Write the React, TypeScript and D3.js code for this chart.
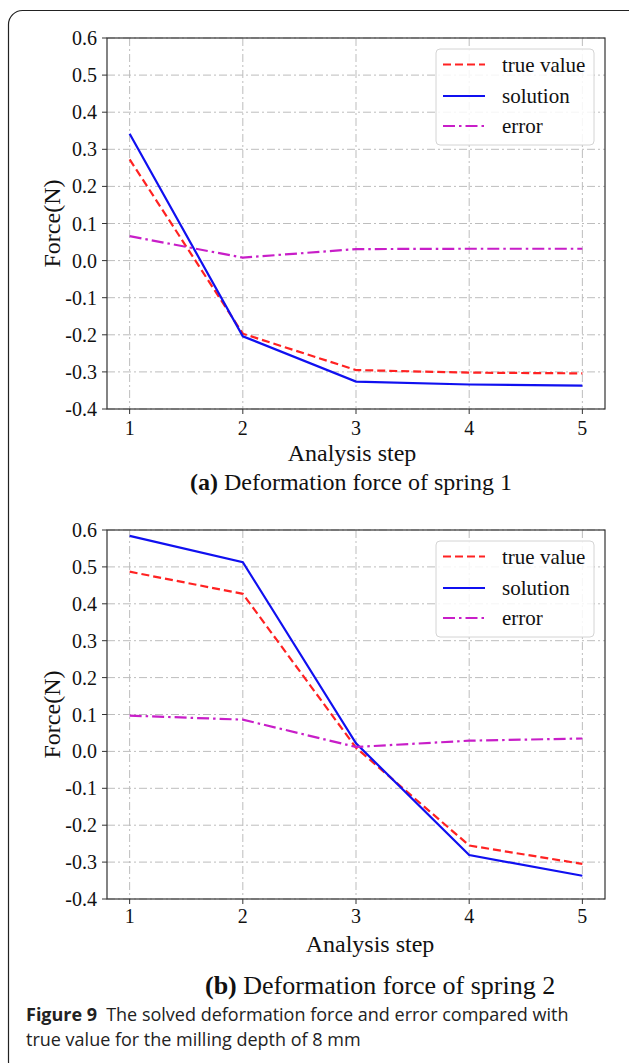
import React from "react";
import * as d3 from "d3";

const steps = [1, 2, 3, 4, 5];
const yTicks = [0.6, 0.5, 0.4, 0.3, 0.2, 0.1, 0.0, -0.1, -0.2, -0.3, -0.4];
const seriesNames = ["true value", "solution", "error"];

const trueA = [0.273, -0.197, -0.295, -0.302, -0.304];
const solA = [0.342, -0.204, -0.326, -0.334, -0.337];
const errA = [0.066, 0.008, 0.031, 0.032, 0.032];

const trueB = [0.487, 0.427, 0.010, -0.255, -0.305];
const solB = [0.584, 0.513, 0.022, -0.281, -0.337];
const errB = [0.097, 0.086, 0.012, 0.029, 0.035];

const W = 629;
const H = 1063;
const SERIF = "'Liberation Serif', 'Times New Roman', serif";
const SANS = "'Open Sans', 'Noto Sans', sans-serif";

const styles = [
  { color: "#ff2222", dash: "8,4", width: 2.2 },
  { color: "#1010f0", dash: "none", width: 2.2 },
  { color: "#c81ec8", dash: "12,4,2.5,4", width: 2.2 },
];

const x = d3.scaleLinear().domain([0.8, 5.2]).range([107, 605]);

function fmt(v: number) {
  return v.toFixed(1);
}

function Panel({
  top,
  bottom,
  series,
  xLabelX,
  xLabelY,
  tickY,
  subX,
  subY,
  subSize,
  subLetter,
  subText,
}: {
  top: number;
  bottom: number;
  series: number[][];
  xLabelX: number;
  xLabelY: number;
  tickY: number;
  subX: number;
  subY: number;
  subSize: number;
  subLetter: string;
  subText: string;
}) {
  const y = d3.scaleLinear().domain([-0.4, 0.6]).range([bottom, top]);
  const [x0, x1] = x.range();
  const line = d3
    .line<number>()
    .x((_, i) => x(steps[i]))
    .y((d) => y(d));
  const lgTop = top + 11;
  const rows = [26.5, 58, 88].map((o) => top + o);
  return (
    <g>
      {/* grid */}
      {yTicks.map((t) => (
        <line
          key={"gy" + t}
          x1={x0}
          x2={x1}
          y1={y(t)}
          y2={y(t)}
          stroke="#bdbdbd"
          strokeWidth={1}
          strokeDasharray="8,3,2,3"
        />
      ))}
      {steps.map((s) => (
        <line
          key={"gx" + s}
          x1={x(s)}
          x2={x(s)}
          y1={top}
          y2={bottom}
          stroke="#bdbdbd"
          strokeWidth={1}
          strokeDasharray="8,3,2,3"
        />
      ))}
      {/* series */}
      {series.map((d, i) => (
        <path
          key={"s" + i}
          d={line(d) || ""}
          fill="none"
          stroke={styles[i].color}
          strokeWidth={styles[i].width}
          strokeDasharray={styles[i].dash}
        />
      ))}
      {/* legend */}
      <rect
        x={436}
        y={lgTop}
        width={158}
        height={96}
        rx={4}
        fill="white"
        fillOpacity={0.85}
        stroke="#d4d4d4"
        strokeWidth={1}
      />
      {seriesNames.map((n, i) => (
        <g key={"l" + i}>
          <line
            x1={443}
            x2={485}
            y1={rows[i]}
            y2={rows[i]}
            stroke={styles[i].color}
            strokeWidth={styles[i].width}
            strokeDasharray={styles[i].dash}
          />
          <text
            x={502}
            y={rows[i] + 7}
            fontFamily={SERIF}
            fontSize={21}
            fill="#111"
          >
            {n}
          </text>
        </g>
      ))}
      {/* frame */}
      <rect
        x={x0}
        y={top}
        width={x1 - x0}
        height={bottom - top}
        fill="none"
        stroke="#333"
        strokeWidth={1.2}
      />
      {/* y ticks */}
      {yTicks.map((t) => (
        <g key={"ty" + t}>
          <line x1={x0 - 5} x2={x0} y1={y(t)} y2={y(t)} stroke="#333" strokeWidth={1} />
          <text
            x={97}
            y={y(t) + 7}
            textAnchor="end"
            fontFamily={SERIF}
            fontSize={20}
            fill="#111"
          >
            {fmt(t)}
          </text>
        </g>
      ))}
      {/* x ticks */}
      {steps.map((s) => (
        <g key={"tx" + s}>
          <line x1={x(s)} x2={x(s)} y1={bottom} y2={bottom + 5} stroke="#333" strokeWidth={1} />
          <text
            x={x(s)}
            y={tickY}
            textAnchor="middle"
            fontFamily={SERIF}
            fontSize={20}
            fill="#111"
          >
            {s}
          </text>
        </g>
      ))}
      <text
        transform={`translate(60,${(top + bottom) / 2}) rotate(-90)`}
        textAnchor="middle"
        fontFamily={SERIF}
        fontSize={24}
        fill="#111"
      >
        Force(N)
      </text>
      <text
        x={xLabelX}
        y={xLabelY}
        textAnchor="middle"
        fontFamily={SERIF}
        fontSize={24}
        fill="#111"
      >
        Analysis step
      </text>
      <text x={subX} y={subY} fontFamily={SERIF} fontSize={subSize} fill="#111">
        <tspan fontWeight="bold">{subLetter}</tspan>
        <tspan> {subText}</tspan>
      </text>
    </g>
  );
}

export default function App() {
  return (
    <svg
      width={W}
      height={H}
      style={{ position: "absolute", left: 0, top: 0, background: "white" }}
    >
      <rect x={0} y={0} width={W} height={H} fill="white" />
      <rect
        x={8.5}
        y={10.5}
        width={700}
        height={1065}
        rx={14}
        fill="none"
        stroke="#222"
        strokeWidth={1.2}
      />
      <Panel
        top={38}
        bottom={409}
        series={[trueA, solA, errA]}
        xLabelX={352}
        xLabelY={461}
        tickY={435}
        subX={190}
        subY={490}
        subSize={24}
        subLetter="(a)"
        subText="Deformation force of spring 1"
      />
      <Panel
        top={530}
        bottom={899}
        series={[trueB, solB, errB]}
        xLabelX={370}
        xLabelY={952}
        tickY={923}
        subX={205}
        subY={994}
        subSize={26}
        subLetter="(b)"
        subText="Deformation force of spring 2"
      />
      <text x={26} y={1021} fontFamily={SANS} fontSize={18} fill="#222">
        <tspan fontWeight="bold">Figure 9</tspan>
        <tspan>{"\u2002The solved deformation force and error compared with"}</tspan>
      </text>
      <text x={26} y={1046} fontFamily={SANS} fontSize={18} fill="#222">
        true value for the milling depth of 8 mm
      </text>
    </svg>
  );
}
